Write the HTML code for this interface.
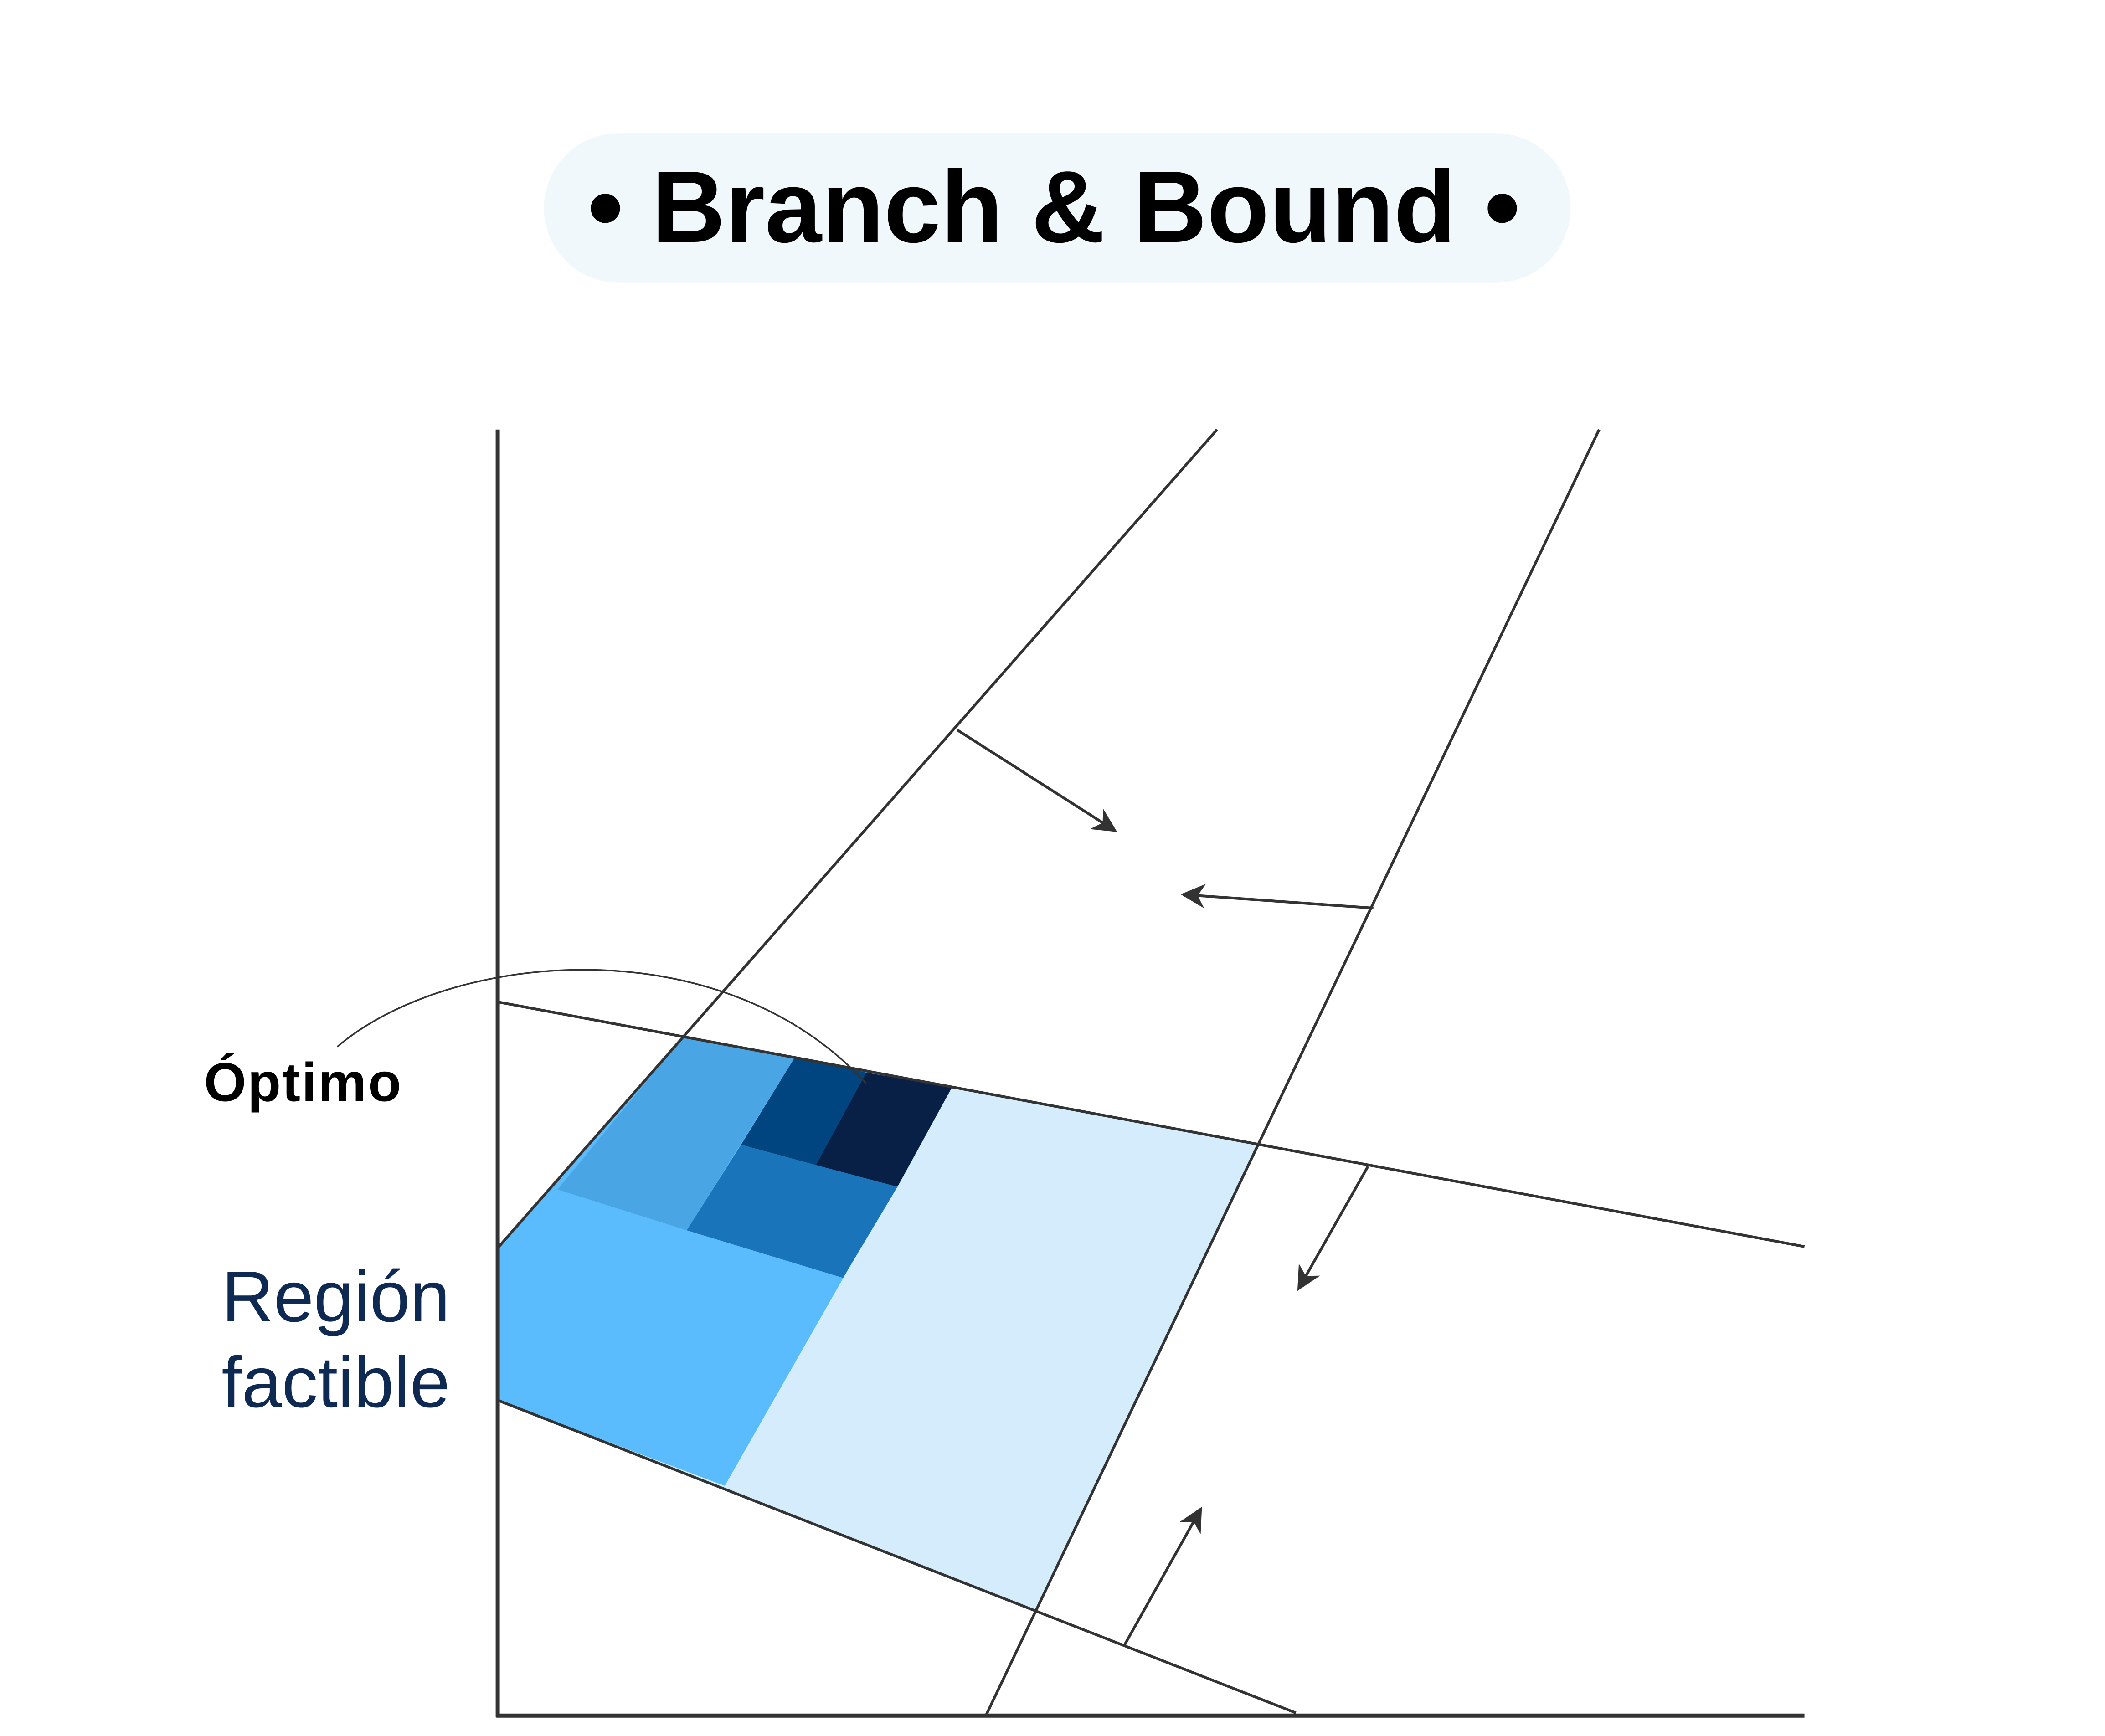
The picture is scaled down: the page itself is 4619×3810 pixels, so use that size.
<!DOCTYPE html>
<html><head><meta charset="utf-8"><style>html,body{margin:0;padding:0;background:#fff}svg{display:block}</style></head>
<body>
<svg width="4619" height="3810" viewBox="0 0 1548 1277" preserveAspectRatio="none" xmlns="http://www.w3.org/2000/svg">
<defs>
<marker id="ah2" viewBox="0 0 10 10" refX="9" refY="5" markerWidth="18" markerHeight="18" markerUnits="userSpaceOnUse" orient="auto"><path d="M0,0 L10,5 L0,10 L3,5 Z" fill="#333"/></marker></defs>
<rect x="400" y="98" width="755" height="110" rx="55" fill="#f0f8fc"/>
<text x="775" y="178" text-anchor="middle" font-family="Liberation Sans, sans-serif" font-weight="bold" font-size="75" fill="#000">• Branch &amp; Bound •</text>
<polygon points="366,918 502.6,762.5 925.4,841.3 761.6,1185 366,1030" fill="#d4ecfb"/>
<polygon points="366,918 502.6,762.5 700,800 533,1093 366,1030" fill="#5bbcfd"/>
<polygon points="410,875 502.6,762.5 585,777 505,905" fill="#4aa5e5"/>
<polygon points="545,842 505,905 620,940 660,873 600,857" fill="#1a74ba"/>
<polygon points="585,777 545,842 600,857 637,789" fill="#00457f"/>
<polygon points="637,789 700,800 660,873 600,857" fill="#082045"/>
<g stroke="#333" fill="none">
<line x1="366" y1="316" x2="366" y2="1263" stroke-width="3"/>
<line x1="365" y1="1262" x2="1327" y2="1262" stroke-width="3"/>
<line x1="366" y1="918" x2="895" y2="316" stroke-width="2"/>
<line x1="1176" y1="316" x2="725" y2="1262" stroke-width="2"/>
<line x1="366" y1="737" x2="1327" y2="917" stroke-width="2"/>
<line x1="366" y1="1030" x2="953" y2="1260" stroke-width="2"/>
<path d="M248,770 C330,700 530,680 637,797" stroke-width="1.2"/>
<line x1="704" y1="537" x2="820" y2="611" stroke-width="2" marker-end="url(#ah2)"/>
<line x1="1010" y1="668" x2="870" y2="658" stroke-width="2" marker-end="url(#ah2)"/>
<line x1="1006" y1="858" x2="955" y2="948" stroke-width="2" marker-end="url(#ah2)"/>
<line x1="827" y1="1210" x2="883" y2="1110" stroke-width="2" marker-end="url(#ah2)"/>
</g>
<text x="150" y="810" font-family="Liberation Sans, sans-serif" font-weight="bold" font-size="40" letter-spacing="1" fill="#000">Óptimo</text>
<text x="163" y="972" font-family="Liberation Sans, sans-serif" font-size="53" fill="#0f2a52">Región</text>
<text x="163" y="1035" font-family="Liberation Sans, sans-serif" font-size="53" fill="#0f2a52">factible</text>
</svg>
</body></html>
